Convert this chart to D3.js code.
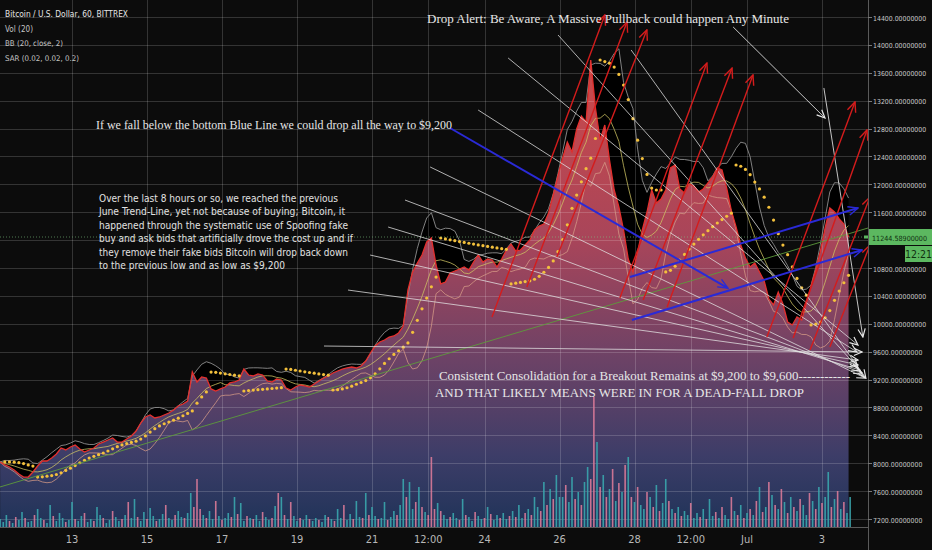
<!DOCTYPE html>
<html>
<head>
<meta charset="utf-8">
<script src="https://cdn.jsdelivr.net/npm/d3@7"></script>
<style>
  html, body { margin: 0; padding: 0; background: #0c0c0c; overflow: hidden; }
  svg { display: block; }
  .serif { font-family: "Liberation Serif", "Times New Roman", serif; fill: #e6e6e6; }
  .narrow { font-family: "Liberation Sans Narrow", "Arial Narrow", "DejaVu Sans Condensed", sans-serif; }
</style>
</head>
<body>
<svg id="chart" width="932" height="550"></svg>
<script>
// BTC/USD 60min, Bittrex - area + BB + SAR + volume, with the trader's drawings

// closes every 3 hours, first one Jun 11 02:00 UTC
const startTime = Date.UTC(2019, 5, 11, 2);
const priceStep = 3;
const closes = [
  8018, 7975, 7946, 7903, 7845, 7802, 7802, 7874, 7960, 8032,
  8032, 8075, 8132, 8218, 8190, 8233, 8261, 8204, 8161, 8190,
  8218, 8276, 8304, 8333, 8362, 8304, 8304, 8347, 8391, 8462,
  8577, 8663, 8692, 8649, 8663, 8692, 8720, 8763, 8821, 8849,
  8892, 9308, 9165, 9237, 9222, 9065, 9036, 9065, 9093, 9151,
  9165, 9194, 9351, 9265, 9251, 9280, 9265, 9179, 9165, 9208,
  9194, 9079, 9050, 9093, 9122, 9108, 9093, 9136, 9179, 9222,
  9251, 9294, 9323, 9351, 9366, 9380, 9366, 9394, 9466, 9581,
  9681, 9739, 9767, 9810, 9825, 9868, 9968, 10485, 10743, 10872,
  10987, 11173, 11230, 10843, 10571, 10599, 10728, 10757, 10786, 10814,
  10771, 10886, 10987, 10886, 10929, 10915, 10814, 10929, 11058, 11144,
  11044, 11058, 11130, 11202, 11345, 11402, 11431, 11589, 11847, 12120,
  12378, 12607, 12464, 12794, 12980, 12894, 13783, 13095, 12636, 12851,
  12349, 11919, 11675, 11345, 10929, 10743, 11029, 11345, 11603, 11919,
  11732, 11790, 11919, 12235, 12277, 11933, 11876, 12005, 11976, 11890,
  11933, 12019, 12105, 12235, 12206, 11947, 11618, 11388, 11130, 10944,
  10814, 10872, 10743, 10614, 10355, 10269, 10456, 10284, 10026, 9983,
  10097, 10054, 10298, 10542, 10771, 11044, 11374, 11661, 11603, 11503,
  11431, 11244
];
const lastPrice = 11244.589;

// volume every 2 hours from the same start, negative = down bar
const volStep = 2;
const volumes = [
  8, 5, 12, -6, 4, -10, 7, 15, -9, 5, 6, -12, 18, 9, -7, 4, 22, -11, 6, 14,
  9, -5, 7, 25, -8, 6, 11, -14, 5, 8, -6, 20, 12, -9, 4, 7, -16, 10, 6, -8,
  12, -25, 9, 28, -10, 6, 15, -8, 19, 11, -6, 8, 13, -22, 9, 7, -12, 16, 10, -9,
  14, 34, -20, -48, -18, 12, -9, 16, 8, -26, 11, -7, 9, 14, -10, 30, -13, 24, 6, -11,
  9, -8, 12, 6, -15, 10, 7, -9, 21, -34, 30, -12, 8, -25, 11, 6, -9, 7, 12, -8,
  6, 9, -7, 5, 12, -10, 8, -6, 18, 9, -22, 7, 13, -8, 26, 10, -9, 34, -12, 20,
  11, -8, 9, 25, -7, 10, 16, -12, 22, 48, -30, 45, 18, -25, 40, -20, 15, -12, -70, -18,
  24, -16, 12, 8, -10, 14, 9, -7, 28, -12, 10, 6, -15, 11, 8, -9, 20, -13, 7, 12,
  -9, 14, 8, -11, 16, -10, 22, 9, -14, 18, -12, 30, 20, -16, 45, -22, 38, -28, 52, 30,
  30, -42, 25, 50, -28, 35, -22, 45, 60, -48, -130, 85, -40, 52, -30, 38, -58, 26, -44, 35,
  -62, 70, -30, 25, -40, 22, 18, -35, 30, -20, 42, -16, 24, 48, -26, 18, -14, 20, -11, 16,
  12, -24, 9, 14, -10, 18, -8, 28, 11, -15, 9, -20, 12, 8, -30, 16, -12, 22, -9, 14,
  -18, 12, -26, 40, -15, 20, -45, 32, -22, 18, -38, 25, -14, 30, -20, 16, -28, 22, 12, -34,
  26, -18, 40, -24, 30, 55, -20, 28, -36, 18, -25, 14, 30
];

const priceTicks = [7200, 7600, 8000, 8400, 8800, 9200, 9600, 10000, 10400, 10800,
  11600, 12000, 12400, 12800, 13200, 13600, 14000, 14400];
const gridPrices = [7200, 7600, 8000, 8400, 8800, 9200, 9600, 10000, 10400, 10800,
  11200, 11600, 12000, 12400, 12800, 13200, 13600, 14000, 14400];
// day of June (31 = Jul 1)
const timeTicks = [13, 15, 17, 19, 21, 22.5, 24, 26, 28, 29.5, 31, 33];
const timeLabels = ['13', '15', '17', '19', '21', '12:00', '24', '26', '28', '12:00', 'Jul', '3'];

// drawings: [day0, price0, day1, price1]
const trendLine = [11.08, 7659, 34.23, 11374];
const fanLines = [
  [19.72, 9681, 34.07, 9595],
  [20.36, 10484, 33.96, 9480],
  [20.95, 10986, 33.96, 9409],
  [21.43, 11388, 34.01, 9337],
  [21.88, 11775, 34.07, 9294],
  [22.55, 12249, 34.15, 9222],
  [23.83, 13066, 33.93, 9595],
  [24.63, 13812, 33.96, 9695],
  [25.96, 14142, 33.96, 9366],
  [27.91, 13927, 34.17, 9222]
];
const whiteArrows = [
  [30.63, 14257, 33.08, 12951],
  [33.05, 13382, 34.09, 9810]
];
const redArrows = [
  [24.20, 10097, 27.21, 14429],
  [25.13, 10527, 27.80, 14328],
  [25.93, 10958, 28.33, 14214],
  [27.61, 10370, 29.93, 13740],
  [28.23, 10341, 30.60, 13668],
  [28.87, 10241, 31.16, 13568],
  [31.53, 9810, 33.88, 13181],
  [32.23, 9796, 34.20, 12779],
  [32.68, 9624, 34.28, 11818],
  [33.21, 9667, 34.28, 11130]
];
const blueArrows = [
  [23.08, 12808, 30.49, 10513],
  [27.88, 10671, 33.96, 11660],
  [27.93, 10054, 34.07, 11058]
];

const paragraph = [
  'Over the last 8 hours or so, we reached the previous',
  'June Trend-Line, yet not because of buying; Bitcoin, it',
  'happened through the systematic use of Spoofing fake',
  'buy and ask bids that artificially drove the cost up and if',
  'they remove their fake bids Bitcoin will drop back down',
  'to the previous low and as low as $9,200'
];
const paragraphWidths = [239, 246, 249, 254, 249, 186];

const legendLines = ['Bitcoin / U.S. Dollar, 60, BITTREX', 'Vol (20)', 'BB (20, close, 2)', 'SAR (0.02, 0.02, 0.2)'];
const legendWidths = [123, 28, 58, 74];

// ---------------------------------------------------------------
const plotR = 868, plotB = 527;
const day = d => Date.UTC(2019, 5, 1) + (d - 1) * 864e5;
const x = d3.scaleUtc().domain([day(13), day(33)]).range([72, 822]);
const y = d3.scaleLinear().domain([14400, 7200]).range([17, 519]);
const yVol = d3.scaleLinear().domain([0, 130]).range([plotB, plotB - 130]);

const series = closes.map((c, i) => ({ t: startTime + i * priceStep * 36e5, c }));

// Bollinger on the 3h closes (7 bars ~ 20 hourly bars)
const N = 7, K = 2;
series.forEach((d, i) => {
  const win = closes.slice(Math.max(0, i - N + 1), i + 1);
  const m = d3.mean(win);
  const sd = Math.sqrt(d3.mean(win, v => (v - m) * (v - m)));
  d.mid = m; d.up = m + K * sd; d.lo = m - K * sd;
});

function parabolicSar(c, step, maxAf) {
  const out = new Array(c.length).fill(null);
  let up = c[1] >= c[0];
  let af = step, ep = c[1], s = c[0];
  out[1] = s;
  for (let i = 2; i < c.length; i++) {
    s = s + af * (ep - s);
    if (up) {
      s = Math.min(s, c[i - 1], c[i - 2]);
      if (c[i] < s) { up = false; s = ep; ep = c[i]; af = step; }
      else if (c[i] > ep) { ep = c[i]; af = Math.min(af + step, maxAf); }
    } else {
      s = Math.max(s, c[i - 1], c[i - 2]);
      if (c[i] > s) { up = true; s = ep; ep = c[i]; af = step; }
      else if (c[i] < ep) { ep = c[i]; af = Math.min(af + step, maxAf); }
    }
    out[i] = s;
  }
  return out;
}
const sar = parabolicSar(closes, 0.02, 0.2);

// shrink the font until the plain text fits, then pin the width
function fitText(sel, width, base) {
  sel.each(function (d, i) {
    const t = d3.select(this);
    const w = typeof width === 'function' ? width(d, i) : width;
    t.attr('font-size', base).attr('textLength', null);
    const nat = this.getComputedTextLength();
    if (nat > w) t.attr('font-size', base * w / nat);
    t.attr('textLength', w).attr('lengthAdjust', 'spacingAndGlyphs');
  });
}

const svg = d3.select('#chart');
const defs = svg.append('defs');

defs.append('clipPath').attr('id', 'plotClip')
  .append('rect').attr('x', 0).attr('y', 0).attr('width', plotR).attr('height', plotB);

const grad = defs.append('linearGradient').attr('id', 'areaGrad')
  .attr('gradientUnits', 'userSpaceOnUse')
  .attr('x1', 0).attr('x2', 0).attr('y1', 50).attr('y2', plotB);
[[0, '#cf4a48'], [0.4, '#a8455a'], [0.65, '#6c4266'], [0.85, '#3d3d68'], [1, '#1f3358']]
  .forEach(([o, c]) => grad.append('stop').attr('offset', o).attr('stop-color', c));

function marker(id, color, size) {
  defs.append('marker').attr('id', id)
    .attr('viewBox', '-1 -5 11 10')
    .attr('refX', 9).attr('refY', 0)
    .attr('markerUnits', 'userSpaceOnUse')
    .attr('markerWidth', size).attr('markerHeight', size)
    .attr('orient', 'auto')
    .append('path').attr('d', 'M0,-4L9,0L0,4')
    .attr('fill', 'none').attr('stroke', color).attr('stroke-width', 1.3);
}
marker('arrW', '#e8e8e8', 10);
marker('arrR', '#d41c1c', 12);
marker('arrB', '#2a2ad6', 12);

svg.append('rect').attr('width', 932).attr('height', 550).attr('fill', '#0c0c0c');

const plot = svg.append('g').attr('clip-path', 'url(#plotClip)');

// BB background
plot.append('path').datum(series)
  .attr('d', d3.area().x(d => x(d.t)).y0(d => y(d.lo)).y1(d => y(d.up)))
  .attr('fill', '#000');

// price area
plot.append('path').datum(series)
  .attr('d', d3.area().x(d => x(d.t)).y0(plotB).y1(d => y(d.c)))
  .attr('fill', 'url(#areaGrad)');

// grid
plot.append('g').selectAll('line').data(gridPrices).join('line')
  .attr('x1', 0).attr('x2', plotR)
  .attr('y1', d => Math.round(y(d)) + 0.5).attr('y2', d => Math.round(y(d)) + 0.5)
  .attr('stroke', 'rgba(255,255,255,0.17)');
plot.append('g').selectAll('line').data(timeTicks).join('line')
  .attr('y1', 0).attr('y2', plotB)
  .attr('x1', d => Math.round(x(day(d))) + 0.5).attr('x2', d => Math.round(x(day(d))) + 0.5)
  .attr('stroke', 'rgba(255,255,255,0.17)');

// volume
plot.append('g').selectAll('rect').data(volumes).join('rect')
  .attr('x', (v, i) => x(startTime + i * volStep * 36e5) - 0.8)
  .attr('width', 1.6)
  .attr('y', v => yVol(Math.abs(v)))
  .attr('height', v => plotB - yVol(Math.abs(v)))
  .attr('fill', v => v >= 0 ? '#3aa6ad' : '#d97a98')
  .attr('opacity', 0.9);

// bands
const bandLine = key => d3.line().x(d => x(d.t)).y(d => y(d[key]));
plot.append('path').datum(series).attr('d', bandLine('up'))
  .attr('fill', 'none').attr('stroke', '#8e8e8e').attr('stroke-width', 0.9);
plot.append('path').datum(series).attr('d', bandLine('lo'))
  .attr('fill', 'none').attr('stroke', '#d59a86').attr('stroke-width', 0.9).attr('opacity', 0.85);
plot.append('path').datum(series).attr('d', bandLine('mid'))
  .attr('fill', 'none').attr('stroke', '#cfc463').attr('stroke-width', 0.9).attr('opacity', 0.85);

// price line
plot.append('path').datum(series)
  .attr('d', d3.line().x(d => x(d.t)).y(d => y(d.c)))
  .attr('fill', 'none').attr('stroke', '#e3302e').attr('stroke-width', 1.3);

// SAR
const sarPoints = series.map((d, i) => ({ t: d.t, s: sar[i] })).filter(d => d.s != null);
plot.append('g').selectAll('circle').data(sarPoints).join('circle')
  .attr('cx', d => x(d.t)).attr('cy', d => y(d.s)).attr('r', 1.6)
  .attr('fill', '#f3c03c');

// last price line
plot.append('line')
  .attr('x1', 0).attr('x2', plotR)
  .attr('y1', y(lastPrice)).attr('y2', y(lastPrice))
  .attr('stroke', '#7cc47f').attr('stroke-opacity', 0.6).attr('stroke-dasharray', '1,2');

// drawings
function drawSegments(list, color, width, mk, opacity) {
  plot.append('g').selectAll('line').data(list).join('line')
    .attr('x1', d => x(day(d[0]))).attr('y1', d => y(d[1]))
    .attr('x2', d => x(day(d[2]))).attr('y2', d => y(d[3]))
    .attr('stroke', color).attr('stroke-width', width)
    .attr('stroke-opacity', opacity)
    .attr('marker-end', mk ? `url(#${mk})` : null);
}
drawSegments([trendLine], '#5d9a3c', 1, null, 0.9);
drawSegments(fanLines, '#e4e4e4', 0.9, 'arrW', 0.85);
drawSegments(whiteArrows, '#d8d8d8', 1, 'arrW', 0.9);
drawSegments(redArrows, '#d41c1c', 1.4, 'arrR', 1);
drawSegments(blueArrows, '#2a2ad6', 2, 'arrB', 1);

// text notes
const notes = [
  { text: 'Drop Alert: Be Aware, A Massive Pullback could happen Any Minute', x: 427, y: 23, w: 362, size: 15 },
  { text: 'If we fall below the bottom Blue Line we could drop all the way to $9,200', x: 96, y: 129, w: 356, size: 15 },
  { text: 'Consistent Consolidation for a Breakout Remains at $9,200 to $9,600------------', x: 439, y: 380, w: 411, size: 15 },
  { text: 'AND THAT LIKELY MEANS WERE IN FOR A DEAD-FALL DROP', x: 435, y: 397, w: 369, size: 14 }
];
svg.append('g').selectAll('text').data(notes).join('text')
  .attr('class', 'serif')
  .attr('x', d => d.x).attr('y', d => d.y)
  .text(d => d.text)
  .each(function (d) { fitText(d3.select(this), d.w, d.size); });

fitText(svg.append('g').selectAll('text').data(paragraph).join('text')
  .attr('class', 'narrow')
  .attr('x', 99).attr('y', (d, i) => 201.5 + i * 13.5)
  .attr('fill', '#e2e2e2')
  .text(d => d), (d, i) => paragraphWidths[i], 13);

// legend
fitText(svg.append('g').selectAll('text').data(legendLines).join('text')
  .attr('class', 'narrow')
  .attr('x', 5).attr('y', (d, i) => 17 + i * 14.6)
  .attr('fill', (d, i) => i === 0 ? '#e6e6e6' : '#c4c4c4')
  .text(d => d), (d, i) => legendWidths[i], 11);

// axes
svg.append('line').attr('x1', plotR + 0.5).attr('x2', plotR + 0.5).attr('y1', 0).attr('y2', 550)
  .attr('stroke', '#5a5a5a');
svg.append('line').attr('x1', 0).attr('x2', plotR).attr('y1', plotB + 0.5).attr('y2', plotB + 0.5)
  .attr('stroke', '#5a5a5a');

const yAxis = svg.append('g');
yAxis.selectAll('line').data(priceTicks).join('line')
  .attr('x1', plotR).attr('x2', plotR + 4)
  .attr('y1', d => Math.round(y(d)) + 0.5).attr('y2', d => Math.round(y(d)) + 0.5)
  .attr('stroke', '#777');
fitText(yAxis.selectAll('text').data(priceTicks).join('text')
  .attr('class', 'narrow')
  .attr('x', plotR + 5).attr('y', d => y(d) + 3.5)
  .attr('fill', '#c8c8c8')
  .text(d => d.toFixed(8)), d => d.toFixed(8).length * 3.8, 10.5);

const xAxis = svg.append('g');
xAxis.selectAll('text').data(timeTicks).join('text')
  .attr('class', 'narrow')
  .attr('x', d => x(day(d))).attr('y', 543)
  .attr('text-anchor', 'middle')
  .attr('font-size', 11).attr('fill', '#b8b8b8')
  .text((d, i) => timeLabels[i]);

// last price label + bar countdown
const yl = y(lastPrice);
svg.append('rect').attr('x', plotR + 1).attr('y', yl - 8).attr('width', 932 - plotR - 1).attr('height', 16)
  .attr('fill', '#5cb860');
fitText(svg.append('text').attr('class', 'narrow')
  .attr('x', plotR + 4).attr('y', yl + 4)
  .attr('fill', '#103010')
  .text(lastPrice.toFixed(8)), 55, 10.5);
svg.append('rect').attr('x', 905).attr('y', yl + 9).attr('width', 27).attr('height', 16)
  .attr('fill', '#5cb860');
svg.append('text').attr('class', 'narrow')
  .attr('x', 918.5).attr('y', yl + 21).attr('text-anchor', 'middle')
  .attr('font-size', 10.5).attr('fill', '#103010')
  .text('12:21');
svg.append('rect').attr('x', plotR - 4).attr('y', yl - 1.5).attr('width', 4).attr('height', 3)
  .attr('fill', '#5cb860');
</script>
</body>
</html>
